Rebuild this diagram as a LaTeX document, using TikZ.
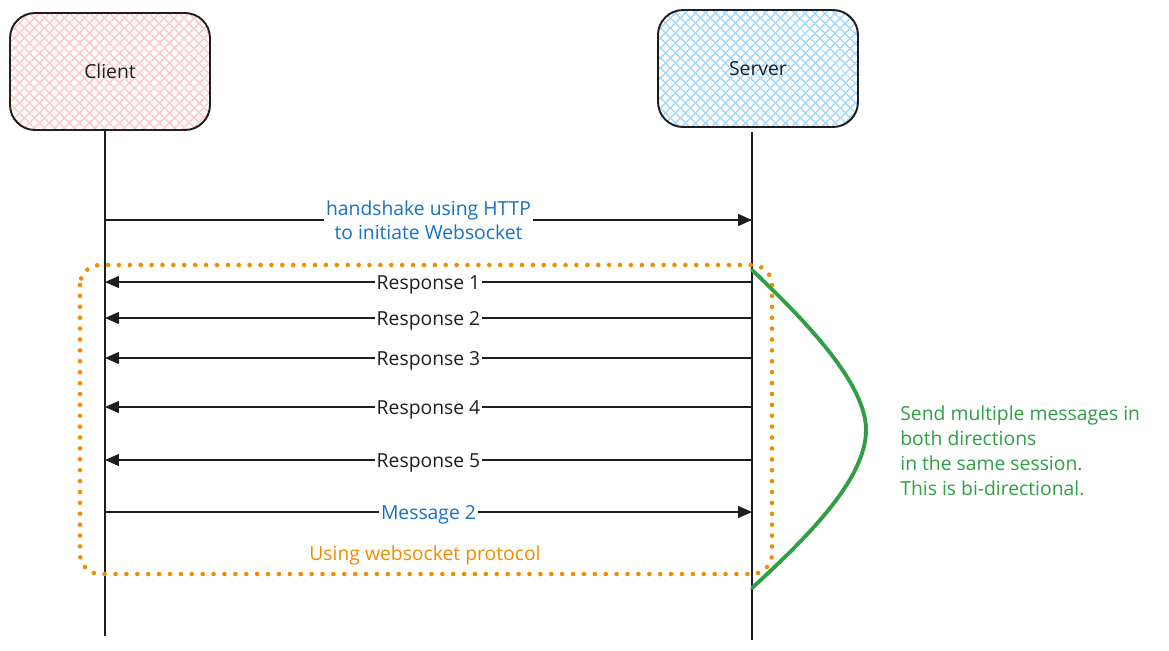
\documentclass[tikz,border=0pt]{standalone}
\usepackage{fontspec}
\setmainfont{Open Sans}
\usetikzlibrary{arrows.meta,patterns.meta}
\definecolor{inkblack}{HTML}{1E1E1E}
\definecolor{inkblue}{HTML}{1971C2}
\definecolor{inkorange}{HTML}{F08C00}
\definecolor{inkgreen}{HTML}{2F9E44}
\definecolor{hatchred}{HTML}{FFC9C9}
\definecolor{hatchblue}{HTML}{A5D8FF}
\tikzset{
         actor/.style=
          {
           draw=inkblack,
           line width=1.1pt,
           rounded corners=0.5cm,
           minimum width=4cm,
           minimum height=2.34cm,
           font=\fontsize{11}{13}\selectfont,
           text=inkblack,
           preaction={pattern={Lines[angle=45,distance=4pt,line width=0.9pt]},pattern color=#1},
           preaction={pattern={Lines[angle=-45,distance=4pt,line width=0.9pt]},pattern color=#1}
          },
         lifeline/.style={draw=inkblack,line width=1.1pt},
         msg/.style={draw=inkblack,line width=0.8pt,-{Triangle[length=0.28cm,width=0.24cm]}},
         lbl/.style={fill=white,inner sep=1pt,font=\fontsize{11}{13.6}\selectfont,text=#1},
         lbl/.default=inkblack
        }

\begin{document}
\begin{tikzpicture}[x=0.02cm,y=-0.02cm]
\useasboundingbox(0,0)rectangle(1169,650);

%actors
\node[actor=hatchred](client)at(110,71.5){Client};
\node[actor=hatchblue](server)at(758,68.5){Server};

%lifelines
\coordinate(ctop)at(105,130);
\coordinate(cbot)at(105,636);
\coordinate(stop)at(752,132);
\coordinate(sbot)at(752,640);
\draw[lifeline](ctop)--(cbot);
\draw[lifeline](stop)--(sbot);

%session frame
\draw[inkorange,line width=2.6pt,line cap=round,dash pattern=on 0pt off 6.2pt,rounded corners=0.4cm](80,265)rectangle(772,574);
\node[lbl=inkorange,fill=none](proto)at(425,555){Using websocket protocol};

%handshake
\coordinate(c0)at(105,220);
\coordinate(s0)at(752,220);
\draw[msg](c0)--node[lbl=inkblue,align=center]{handshake using HTTP\\to initiate Websocket}(s0);

%responses
\foreach \n/\y in {1/282,2/318,3/358,4/407,5/460}{
\coordinate(s\n)at(752,\y);
\coordinate(c\n)at(105,\y);
\draw[msg](s\n)--node[lbl,yshift=-1.5pt]{Response \n}(c\n);
}

%message
\coordinate(c6)at(105,512);
\coordinate(s6)at(752,512);
\draw[msg](c6)--node[lbl=inkblue,yshift=-1.5pt]{Message 2}(s6);

%bi-directional bracket
\coordinate(gtop)at(752,270);
\coordinate(gtip)at(866,430);
\coordinate(gbot)at(752,588);
\draw[inkgreen,line width=2.2pt,line cap=round](gtop)..controls(810,325)and(866,385)..(gtip)..controls(866,478)and(810,535)..(gbot);
\node[anchor=west,align=left,text=inkgreen,font=\fontsize{11}{14.2}\selectfont,inner sep=0pt](note)at(900,450.5){Send multiple messages in\\both directions\\in the same session.\\This is bi-directional.};

\end{tikzpicture}
\end{document}
